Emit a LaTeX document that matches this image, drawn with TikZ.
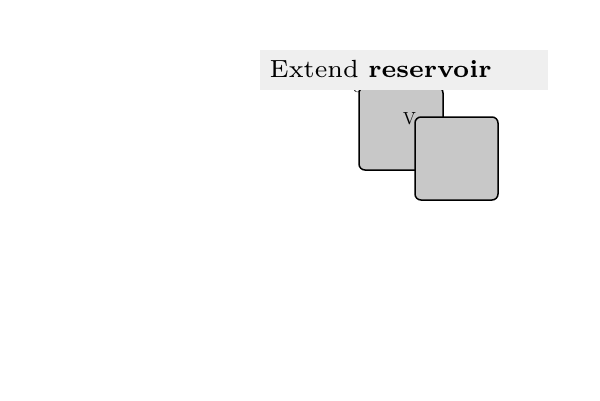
\documentclass[tikz,border=0pt]{standalone}
\begin{document}
\begin{tikzpicture}[x=1pt,y=-1pt,
  tile/.style={draw=black,line width=1.5pt,fill=tilegray,rounded corners=6pt},
  hint/.style={font=\fontsize{10}{12}\selectfont,scale=1.75,inner sep=0pt}]
\definecolor{tilegray}{HTML}{C8C8C8}
\definecolor{bannergray}{HTML}{EFEFEF}
\useasboundingbox[fill=white] (0,0) rectangle (600,400);
\draw[tile] (359,87) rectangle (443,170);
\node[hint] (ta) at (357.5,88.5) {o};
\node[hint] (tb) at (409.5,119) {V};
\draw[tile] (415,117) rectangle (498,200);
\path[fill=bannergray] (260,50) rectangle (548,90);
\node[anchor=base west,inner sep=0pt,font=\fontsize{7}{8}\selectfont,scale=3.55] (lbl) at (269,77.5) {Extend \textbf{reservoir}};
\end{tikzpicture}
\end{document}
